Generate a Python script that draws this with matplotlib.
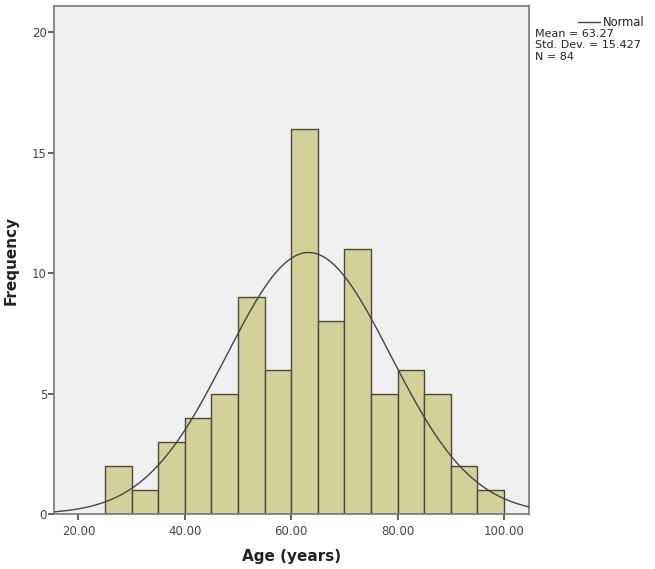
import matplotlib.pyplot as plt
import numpy as np

bin_edges = [25, 30, 35, 40, 45, 50, 55, 60, 65, 70, 75, 80, 85, 90, 95, 100]
counts = [2, 1, 3, 4, 5, 9, 6, 16, 8, 11, 5, 6, 5, 2, 1]
mean = 63.27
sd = 15.427
n = 84
x_ticks = [20, 40, 60, 80, 100]
y_ticks = [0, 5, 10, 15, 20]

plt.rcParams['font.family'] = ['DejaVu Sans']

fig = plt.figure(figsize=(6.55, 5.69), dpi=100)
ax = fig.add_axes([0.0824, 0.0967, 0.7252, 0.8928])
ax.set_facecolor('#f0f0f0')

lefts = np.array(bin_edges[:-1])
widths = np.diff(bin_edges)
ax.bar(lefts, counts, width=widths, align='edge', color='#d4d09a',
       edgecolor='#4a4a3a', linewidth=1.0, zorder=2)

xlim = (15.4, 104.7)
xs = np.linspace(xlim[0], xlim[1], 400)
bw = widths[0]
ys = n * bw / (sd * np.sqrt(2 * np.pi)) * np.exp(-0.5 * ((xs - mean) / sd) ** 2)
ax.plot(xs, ys, color='#444444', linewidth=1.0, zorder=3)

ax.set_xlim(*xlim)
ax.set_ylim(0, 21.1)
ax.set_xticks(x_ticks)
ax.set_xticklabels(['%.2f' % v for v in x_ticks])
ax.set_yticks(y_ticks)
ax.tick_params(axis='both', colors='#444444', labelsize=8.5, length=4, width=1.2,
               labelcolor='#444444')
ax.tick_params(axis='x', pad=4)
ax.tick_params(axis='y', pad=1)
for s in ax.spines.values():
    s.set_color('#777777')
    s.set_linewidth(1.2)

ax.set_xlabel('Age (years)', fontsize=11, fontweight='bold', color='#222222', labelpad=8)
ax.set_ylabel('Frequency', fontsize=11, fontweight='bold', color='#222222', labelpad=10)

# legend / stats box on the right
fig.add_artist(plt.Line2D([578 / 655, 600 / 655], [1 - 22 / 569, 1 - 22 / 569],
                          color='#444444', linewidth=1.0))
fig.text(603 / 655, 1 - 22 / 569, 'Normal', fontsize=8.3, va='center', color='#222222')
stats = ['Mean = %.2f' % mean, 'Std. Dev. = %.3f' % sd, 'N = %d' % n]
for i, t in enumerate(stats):
    fig.text(535 / 655, 1 - (34 + 11.5 * i) / 569, t, fontsize=8, va='center', color='#222222')

fig.savefig('out.png', dpi=100, facecolor='white')
